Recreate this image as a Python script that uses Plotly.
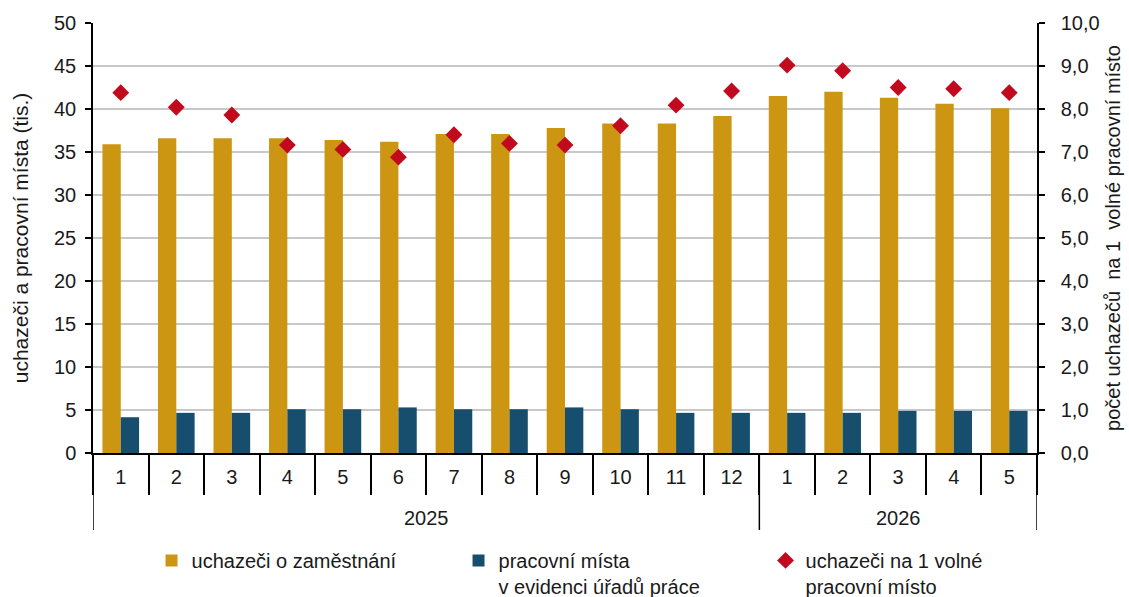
import plotly.graph_objects as go

years = ["2025"] * 12 + ["2026"] * 5
months = [str(m) for m in range(1, 13)] + [str(m) for m in range(1, 6)]

uchazeci = [35.9, 36.6, 36.6, 36.6, 36.4, 36.2, 37.1, 37.1, 37.8, 38.3, 38.3, 39.2,
            41.5, 42.0, 41.3, 40.6, 40.1]
mista = [4.16, 4.67, 4.67, 5.09, 5.09, 5.3, 5.09, 5.09, 5.3, 5.09, 4.67, 4.67,
         4.67, 4.67, 4.9, 4.9, 4.9]
pomer = [8.38, 8.04, 7.86, 7.16, 7.06, 6.88, 7.40, 7.20, 7.16, 7.61, 8.09, 8.42,
         9.02, 8.89, 8.50, 8.47, 8.38]

names = ["uchazeči o zaměstnání", "pracovní místa<br>v evidenci úřadů práce",
         "uchazeči na 1 volné<br>pracovní místo"]
left_title = "uchazeči a pracovní místa (tis.)"
right_title = "počet uchazečů  na 1  volné pracovní místo"

FONT = "Liberation Sans, Arial, sans-serif"
FS = 20
TXT = "#1a1a1a"

cats = [f"{y}|{m}" for y, m in zip(years, months)]
n = len(cats)

fig = go.Figure()
fig.add_trace(go.Bar(x=cats, y=uchazeci, name=names[0], marker=dict(color="#CC9613", line=dict(width=0))))
fig.add_trace(go.Bar(x=cats, y=mista, name=names[1], marker=dict(color="#174E6D", line=dict(width=0))))
fig.add_trace(go.Scatter(x=cats, y=pomer, name=names[2], yaxis="y2", mode="markers",
                         marker=dict(symbol="diamond", size=13, color="#C20A1E")))

# year group labels and dividers (axis decoration)
groups = []
for i, y in enumerate(years):
    if not groups or groups[-1][0] != y:
        groups.append([y, i, i])
    else:
        groups[-1][2] = i

shapes = []
annotations = []
bounds = set()
for y, i0, i1 in groups:
    annotations.append(dict(x=(i0 + i1) / 2, y=-0.151, xref="x", yref="paper", text=y,
                            showarrow=False, yanchor="middle", xanchor="center",
                            font=dict(family=FONT, size=FS, color=TXT)))
    bounds.add(i0 - 0.5)
    bounds.add(i1 + 0.5)
for b in sorted(bounds):
    shapes.append(dict(type="line", xref="x", yref="paper", x0=b, x1=b, y0=0, y1=-0.179,
                       line=dict(color="black", width=1.5)))

# right axis title
annotations.append(dict(x=1.0805, y=0.5, xref="paper", yref="paper", text=right_title,
                        textangle=-90, showarrow=False, xanchor="center", yanchor="middle",
                        font=dict(family=FONT, size=FS, color=TXT)))

fig.update_layout(
    width=1129, height=597,
    margin=dict(l=93, r=92, t=23, b=144, autoexpand=False),
    paper_bgcolor="white", plot_bgcolor="white",
    font=dict(family=FONT, size=FS, color=TXT),
    separators=", ",
    barmode="group", bargap=0.34, bargroupgap=0,
    showlegend=True,
    legend=dict(orientation="h", xref="paper", x=0.062, xanchor="left",
                yref="container", y=0.094, yanchor="top",
                entrywidth=262, entrywidthmode="pixels", itemwidth=30,
                font=dict(family=FONT, size=20, color=TXT), traceorder="normal",
                valign="top", bgcolor="rgba(0,0,0,0)"),
    shapes=shapes,
    annotations=annotations,
    xaxis=dict(type="category", range=[-0.5, n - 0.5], tickvals=cats, ticktext=months,
               showline=True, linecolor="black", linewidth=1.5,
               ticks="outside", tickson="boundaries", ticklen=40, tickcolor="black",
               tickwidth=1.5, ticklabelstandoff=5, automargin=False,
               tickfont=dict(family=FONT, size=FS, color=TXT), showgrid=False),
    yaxis=dict(range=[0, 50], dtick=5, showline=True, linecolor="black", linewidth=1.5,
               ticks="outside", ticklen=6, tickcolor="black", tickwidth=1.5,
               showgrid=True, gridcolor="#c8c8c8", gridwidth=1.5, zeroline=False,
               automargin=False, ticklabelstandoff=5,
               tickfont=dict(family=FONT, size=FS, color=TXT),
               title=dict(text=left_title, font=dict(family=FONT, size=21, color=TXT), standoff=20)),
    yaxis2=dict(range=[0, 10], dtick=1, tickformat=".1f", overlaying="y", side="right",
                showline=True, linecolor="black", linewidth=1.5,
                ticks="outside", ticklen=6, tickcolor="black", tickwidth=1.5,
                showgrid=False, zeroline=False, automargin=False, ticklabelstandoff=12,
                tickfont=dict(family=FONT, size=FS, color=TXT)),
)

fig.write_html("out.html", config={"displayModeBar": False},
               post_script="document.body.style.margin='0';")
